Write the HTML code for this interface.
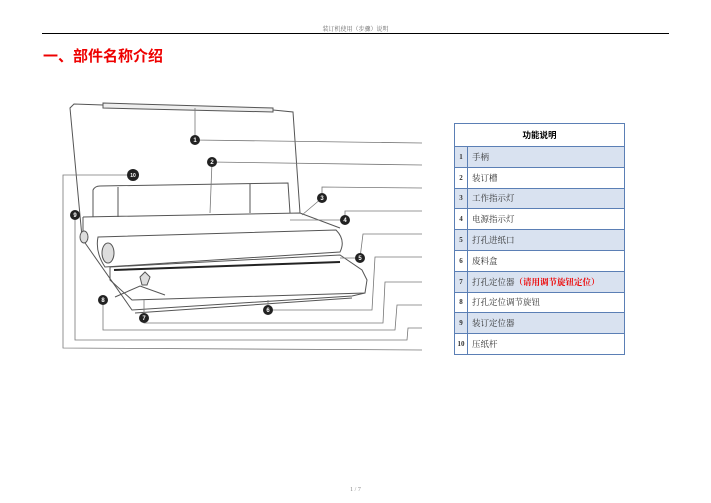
<!DOCTYPE html>
<html><head><meta charset="utf-8"><style>
body{margin:0;width:711px;height:503px;background:#fff;position:relative;overflow:hidden;font-family:"Liberation Serif","Noto Serif CJK SC",serif}
.hd{position:absolute;left:0;width:711px;top:24px;text-align:center;font-size:6px;color:#666}
.hl{position:absolute;left:42px;width:627px;top:33px;height:1px;background:#000}
.t{position:absolute;left:43px;top:45px;font-size:15px;font-weight:bold;color:#e00;font-family:"Liberation Sans","Noto Sans CJK SC",sans-serif}
.ft{position:absolute;left:0;width:711px;top:487px;text-align:center;font-size:6px;color:#888}
table{position:absolute;left:454px;top:123px;width:171px;border-collapse:collapse;font-size:8.5px}
td{border:1px solid #5b7fb5;height:19.8px;padding:0 0 0 4px;color:#333}
td.n{width:12px;text-align:center;padding:0;font-weight:bold;font-size:7px}
tr.b td{background:#d9e2f0}
th{border:1px solid #5b7fb5;height:20px;font-size:8.5px;font-family:"Liberation Sans","Noto Sans CJK SC",sans-serif}
.r{color:#e00;font-weight:bold}
</style></head><body>
<div class="hd">装订机使用（步骤）说明</div>
<div class="hl"></div>
<div class="t">一、部件名称介绍</div>
<svg width="711" height="503" style="position:absolute;left:0;top:0">
<g fill="none" stroke="#555" stroke-width="1">
<path d="M82,237 L70,108 L74,104 L103,105 M103,105 L273,110 L293,112 L300,213"/>
<path d="M103,103 L273,108 L273,112 L103,108Z" fill="#eee"/>
<path d="M93,217 L93,190 Q95,186 100,186 L288,183 L290,213"/>
<path d="M118,187 L118,217 M250,184 L250,213"/>
<path d="M83,217 L300,213 L340,228"/>
<path d="M98,237 L336,230 Q346,240 340,252 L105,267 Q95,252 98,237Z" fill="#fff"/>
<path d="M110,267 L340,255 L362,270 L367,280 L365,293 L132,300 L110,280Z" fill="#fff"/>
<path d="M83,217 L83,240 L132,310 L352,296 L365,293"/>
<path d="M135,313 L352,298"/>
<path d="M114,270 L340,262" stroke="#222" stroke-width="2"/>
<ellipse cx="108" cy="253" rx="6" ry="10" fill="#ddd"/>
<ellipse cx="84" cy="237" rx="4" ry="6" fill="#ddd"/>
<path d="M140,277 L145,272 L150,277 L147,285 L142,285Z" fill="#ddd"/>
<path d="M115,297 L140,286 L165,295" />
</g>
<g fill="none" stroke="#777" stroke-width="0.8">
<path d="M195,108 L195,140 L422,143"/>
<path d="M210,213 L212,162 L422,165"/>
<path d="M133,175 L63,175 L63,348 L422,350"/>
<path d="M302,215 L322,198 L322,187 L422,188"/>
<path d="M290,220 L345,220 L345,211 L422,211"/>
<path d="M340,258 L360,258 L363,234 L422,234"/>
<path d="M268,300 L268,310 L372,310 L375,257 L422,257"/>
<path d="M144,300 L144,318 L144,323 L383,323 L385,282 L422,282"/>
<path d="M103,300 L103,330 L395,330 L397,305 L422,305"/>
<path d="M75,215 L75,340 L407,340 L408,328 L422,328"/>
</g>
<g font-family="Liberation Sans,sans-serif" font-weight="bold" font-size="6" fill="#fff" text-anchor="middle">
<circle cx="195" cy="140" r="5" fill="#222"/><text x="195" y="142">1</text>
<circle cx="212" cy="162" r="5" fill="#222"/><text x="212" y="164">2</text>
<circle cx="322" cy="198" r="5" fill="#222"/><text x="322" y="200">3</text>
<circle cx="345" cy="220" r="5" fill="#222"/><text x="345" y="222">4</text>
<circle cx="360" cy="258" r="5" fill="#222"/><text x="360" y="260">5</text>
<circle cx="268" cy="310" r="5" fill="#222"/><text x="268" y="312">6</text>
<circle cx="144" cy="318" r="5" fill="#222"/><text x="144" y="320">7</text>
<circle cx="103" cy="300" r="5" fill="#222"/><text x="103" y="302">8</text>
<circle cx="75" cy="215" r="5" fill="#222"/><text x="75" y="217">9</text>
<circle cx="133" cy="175" r="6" fill="#222"/><text x="133" y="177" font-size="5">10</text>
</g>
</svg>
<table>
<tr><th colspan="2">功能说明</th></tr>
<tr class="b"><td class="n">1</td><td>手柄</td></tr>
<tr><td class="n">2</td><td>装订槽</td></tr>
<tr class="b"><td class="n">3</td><td>工作指示灯</td></tr>
<tr><td class="n">4</td><td>电源指示灯</td></tr>
<tr class="b"><td class="n">5</td><td>打孔进纸口</td></tr>
<tr><td class="n">6</td><td>废料盒</td></tr>
<tr class="b"><td class="n">7</td><td>打孔定位器<span class="r">（请用调节旋钮定位）</span></td></tr>
<tr><td class="n">8</td><td>打孔定位调节旋钮</td></tr>
<tr class="b"><td class="n">9</td><td>装订定位器</td></tr>
<tr><td class="n">10</td><td>压纸杆</td></tr>
</table>
<div class="ft">1 / 7</div>
</body></html>
